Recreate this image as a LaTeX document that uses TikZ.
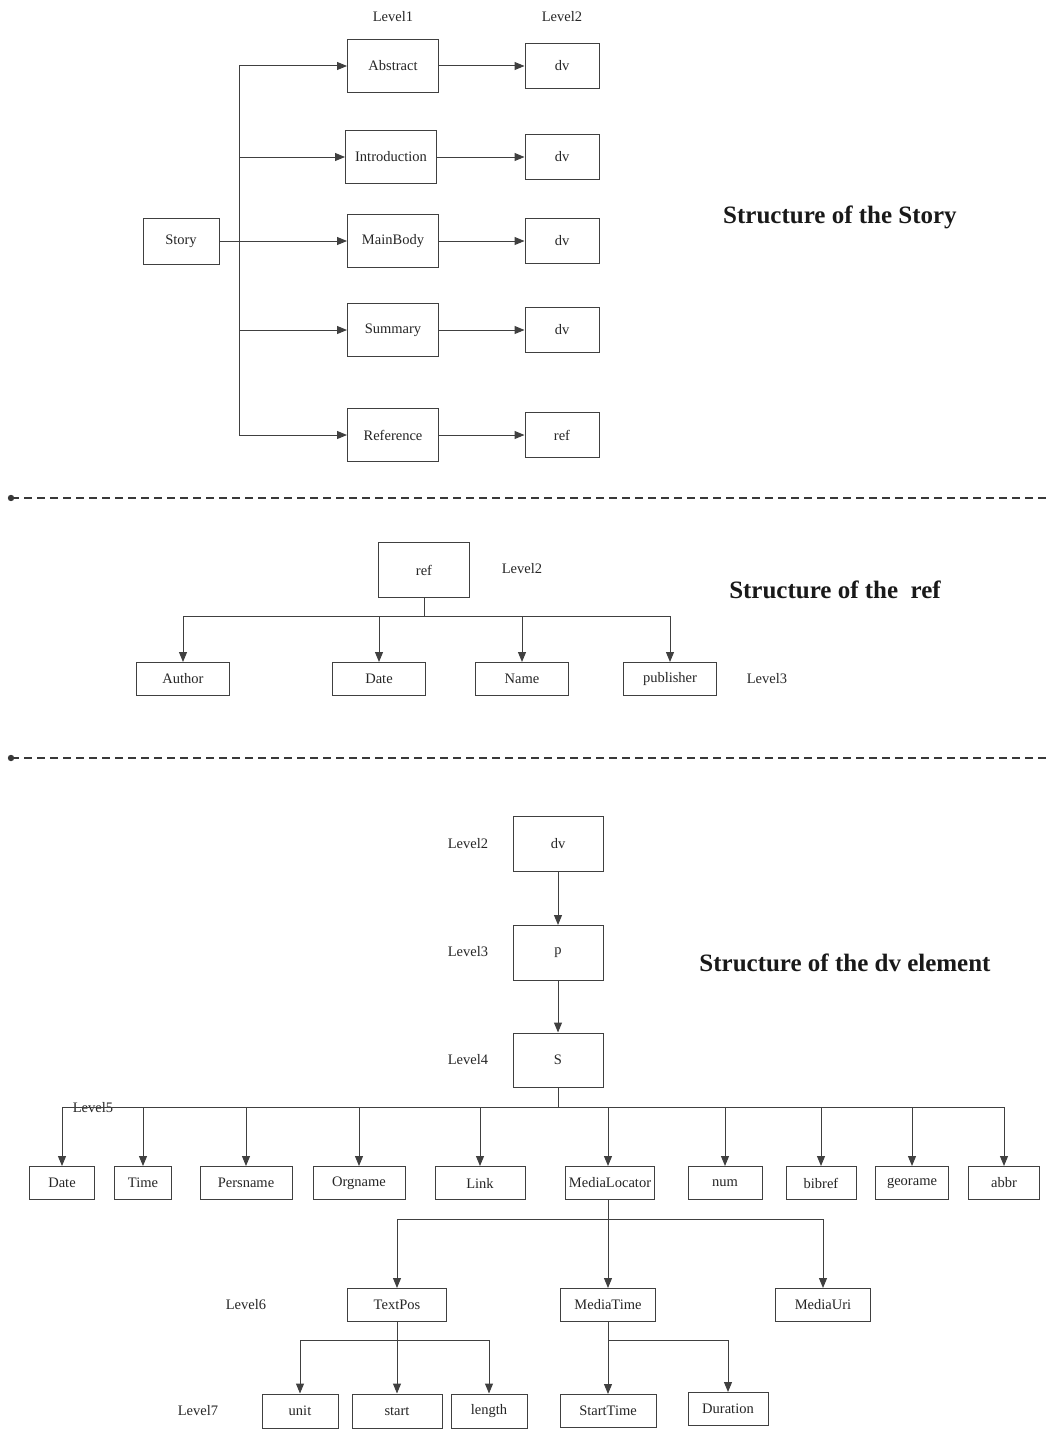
\documentclass[tikz,border=0pt]{standalone}
\usepackage{fontspec}
\setmainfont{Liberation Serif}
\usetikzlibrary{arrows.meta}
\begin{document}
\begin{tikzpicture}[x=1pt,y=-1pt,
  box/.style={draw=black!75, line width=1pt, inner sep=0pt, fill=white,
              font=\fontsize{14.5}{16}\selectfont, text=black!85},
  lbl/.style={font=\fontsize{14.5}{16}\selectfont, text=black!85},
  ttl/.style={font=\fontsize{25}{29}\selectfont\bfseries, text=black!90},
  arr/.style={draw=black!75, line width=1pt, -{Triangle[length=10pt,width=8pt]}},
  ln/.style={draw=black!75, line width=1pt},
  sep/.style={draw=black!78, line width=2.5pt, dash pattern=on 8pt off 5pt}
]
\useasboundingbox (0,0) rectangle (1050,1429);

% ---------- Structure of the Story ----------
\node[lbl] (lv1) at (393,17) {Level1};
\node[lbl] (lv2) at (562,17) {Level2};

\node[box, minimum width=76, minimum height=46] (story) at (181,241) {Story};
\node[box, minimum width=91, minimum height=53] (abs)  at (393,66)  {Abstract};
\node[box, minimum width=91, minimum height=53] (intro) at (391,157) {Introduction};
\node[box, minimum width=91, minimum height=53] (main) at (393,241) {MainBody};
\node[box, minimum width=91, minimum height=53] (summ) at (393,330) {Summary};
\node[box, minimum width=91, minimum height=53] (refer) at (393,435) {Reference};

\node[box, minimum width=74, minimum height=45] (dvA) at (562,66)  {dv};
\node[box, minimum width=74, minimum height=45] (dvI) at (562,157) {dv};
\node[box, minimum width=74, minimum height=45] (dvM) at (562,241) {dv};
\node[box, minimum width=74, minimum height=45] (dvS) at (562,330) {dv};
\node[box, minimum width=74, minimum height=45] (refR) at (562,435) {ref};

\coordinate (trunk) at (239,241);
\coordinate (trunkTop) at (239,66);
\coordinate (trunkBot) at (239,435);
\draw[ln] (story.east) -- (trunk);
\draw[ln] (trunkTop) -- (trunkBot);
\draw[arr] (trunk) |- (abs.west);
\draw[arr] (trunk) |- (intro.west);
\draw[arr] (trunk) -- (main.west);
\draw[arr] (trunk) |- (summ.west);
\draw[arr] (trunk) |- (refer.west);

\draw[arr] (abs) -- (dvA);
\draw[arr] (intro) -- (dvI);
\draw[arr] (main) -- (dvM);
\draw[arr] (summ) -- (dvS);
\draw[arr] (refer) -- (refR);

\node[ttl] (t1) at (840,217) {Structure of the Story};

% ---------- separators ----------
\coordinate (s1a) at (11,498); \coordinate (s1b) at (1050,498);
\coordinate (s2a) at (11,758); \coordinate (s2b) at (1050,758);
\fill[black!78] (s1a) circle (3.2);
\draw[sep] (s1a) -- (s1b);
\fill[black!78] (s2a) circle (3.2);
\draw[sep] (s2a) -- (s2b);

% ---------- Structure of the ref ----------
\node[box, minimum width=91, minimum height=55] (ref) at (424,570) {ref};
\node[lbl] (rl2) at (522,569) {Level2};
\node[box, minimum width=93, minimum height=33] (author) at (183,679) {Author};
\node[box, minimum width=93, minimum height=33] (date)   at (379,679) {Date};
\node[box, minimum width=93, minimum height=33] (name)   at (522,679) {Name};
\node[box, minimum width=93, minimum height=33] (publ)   at (670,679) {publisher};
\node[lbl] (rl3) at (767,679) {Level3};

\coordinate (rbus) at (424,616);
\draw[ln] (ref.south) -- (rbus);
\draw[arr] (rbus) -| (author.north);
\draw[arr] (rbus) -| (date.north);
\draw[arr] (rbus) -| (name.north);
\draw[arr] (rbus) -| (publ.north);

\node[ttl] (t2) at (835,590) {Structure of the\ \ ref};

% ---------- Structure of the dv element ----------
\node[box, minimum width=90, minimum height=55] (dv) at (558,844)  {dv};
\node[box, minimum width=90, minimum height=55] (p)  at (558,953)  {p};
\node[box, minimum width=90, minimum height=54] (S)  at (558,1060) {S};
\node[lbl] (dl2) at (468,844)  {Level2};
\node[lbl] (dl3) at (468,952)  {Level3};
\node[lbl] (dl4) at (468,1060) {Level4};
\draw[arr] (dv) -- (p);
\draw[arr] (p) -- (S);

\node[ttl] (t3) at (845,963) {Structure of the dv element};

% level 5 (its label sits on the bus line)
\node[lbl] (dl5) at (93,1108) {Level5};
\node[box, minimum width=65, minimum height=33] (e1)  at (62,1183)   {Date};
\node[box, minimum width=57, minimum height=33] (e2)  at (143,1183)  {Time};
\node[box, minimum width=92, minimum height=33] (e3)  at (246,1183)  {Persname};
\node[box, minimum width=92, minimum height=33] (e4)  at (359,1183)  {Orgname};
\node[box, minimum width=90, minimum height=33] (e5)  at (480,1183)  {Link};
\node[box, minimum width=89, minimum height=33] (e6)  at (610,1183)  {MediaLocator};
\node[box, minimum width=74, minimum height=33] (e7)  at (725,1183)  {num};
\node[box, minimum width=70, minimum height=33] (e8)  at (821,1183)  {bibref};
\node[box, minimum width=73, minimum height=33] (e9)  at (912,1183)  {georame};
\node[box, minimum width=71, minimum height=33] (e10) at (1004,1183) {abbr};

\coordinate (sbus) at (558,1107);
\draw[ln] (S.south) -- (sbus);
\foreach \n in {e1,e2,e3,e4,e5,e7,e8,e9,e10}
  \draw[arr] (sbus) -| (\n.north);
\draw[arr] (sbus) -| ([xshift=-2pt]e6.north);

% level 6
\node[lbl] (dl6) at (246,1305) {Level6};
\node[box, minimum width=99, minimum height=33] (tp) at (397,1305) {TextPos};
\node[box, minimum width=95, minimum height=33] (mt) at (608,1305) {MediaTime};
\node[box, minimum width=95, minimum height=33] (mu) at (823,1305) {MediaUri};

\coordinate (mbus) at (608,1219);
\draw[ln] ([xshift=-2pt]e6.south) -- (mbus);
\draw[arr] (mbus) -| (tp.north);
\draw[arr] (mbus) -- (mt.north);
\draw[arr] (mbus) -| (mu.north);

% level 7
\node[lbl] (dl7) at (198,1411) {Level7};
\node[box, minimum width=76, minimum height=34] (u)  at (300,1411) {unit};
\node[box, minimum width=90, minimum height=34] (st) at (397,1411) {start};
\node[box, minimum width=76, minimum height=34] (le) at (489,1411) {length};
\node[box, minimum width=96, minimum height=33] (stt) at (608,1411) {StartTime};
\node[box, minimum width=80, minimum height=33] (du) at (728,1409) {Duration};

\coordinate (tbus) at (397,1340);
\draw[ln] (tp.south) -- (tbus);
\draw[arr] (tbus) -| (u.north);
\draw[arr] (tbus) -- (st.north);
\draw[arr] (tbus) -| (le.north);

\coordinate (mtbus) at (608,1340);
\draw[ln] (mt.south) -- (mtbus);
\draw[arr] (mtbus) -- (stt.north);
\draw[arr] (mtbus) -| (du.north);
\end{tikzpicture}
\end{document}
